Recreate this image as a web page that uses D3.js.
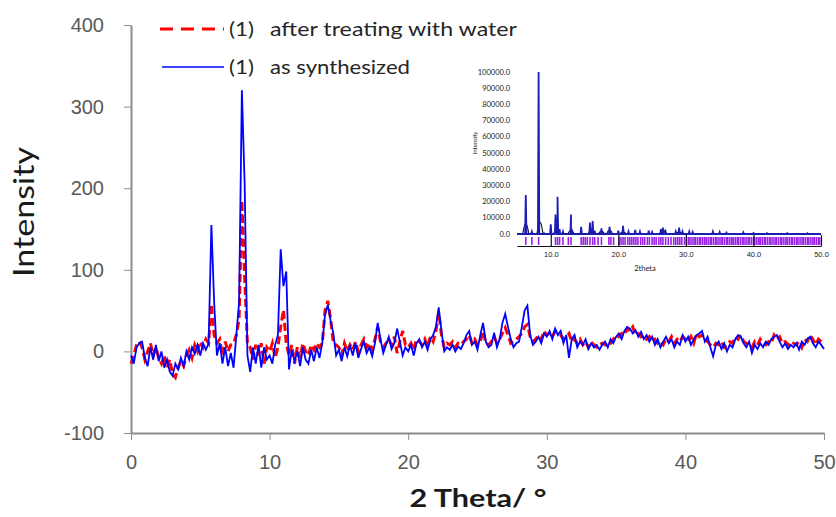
<!DOCTYPE html>
<html lang="en">
<head>
<meta charset="utf-8" />
<title>PXRD pattern</title>
<script src="https://cdn.jsdelivr.net/npm/d3@7/dist/d3.min.js"></script>
<style>
  body { margin: 0; background: #fff; }
  svg { display: block; font-family: Lato, "Open Sans", sans-serif; }
  .axis path, .axis line { stroke: #8c8c8c; }
  .axis text { fill: #595959; }
</style>
</head>
<body>
<div id="chart"></div>
<script>
// main pattern, 2theta from 0 to 50 in 0.2 steps
var thetaStep = 0.2;

var asSynth = [
  -5, -15, 5, 10, 12, -8, -18, 5, -10, 8,
  -12, 0, -20, -10, -25, -30, -15, -22, -8, -18,
  0, -10, 5, -3, 8, -5, 10, 2, 10, 155,
  60, -5, 10, -15, 5, -18, -2, -20, 20, 60,
  320, 205, -5, -25, 5, -15, 8, -20, 5, -10,
  -5, -15, 8, 20, 125, 80, 98, -22, 2, -12,
  0, -18, 5, -10, -15, 2, -12, 5, -8, 10,
  45, 57, 38, 22, -5, 2, -12, 5, -6, 8,
  -5, 10, -8, 3, 12, -2, 5, -6, 10, 35,
  15, -2, 8, 18, 3, 10, 28, 12, -5, 5,
  0, 8, -5, 10, 15, 5, 12, 2, 15, 20,
  30, 54, 25, 0, 5, 2, 8, 0, 6, 3,
  10, 20, 25, 8, 12, 2, 20, 35, 12, 5,
  8, 23, 5, 15, 35, 46, 30, 15, 5, 10,
  12, 30, 50, 56, 20, 8, 12, 18, 10, 22,
  18, 25, 15, 28, 20, 25, 10, 20, -8, 15,
  20, 5, 12, 8, 15, 3, 10, 5, 8, 2,
  8, 12, 5, 15, 10, 18, 22, 15, 25, 30,
  28, 22, 26, 18, 24, 15, 20, 12, 18, 8,
  15, 5, 12, 18, 10, 15, 5, 12, 8, 20,
  12, 18, 8, 15, 20, 22, 25, 12, 18, 5,
  -6, 8, 12, 3, 10, 0, 8, 5, 15, 20,
  18, 10, 5, 12, -2, 8, 3, 10, 5, 12,
  8, 15, 18, 20, 12, 5, 10, 3, 8, 5,
  10, 2, 12, 8, 15, 18, 10, 5, 12, 8,
  3
];

var afterWater = [
  -15, -5, 8, 12, 5, -10, 0, 10, -5, 5,
  -8, -15, -5, -20, -10, -28, -32, -20, -12, -18,
  -5, 2, -8, 8, 0, 12, 5, 15, 10, 58,
  20, 10, 15, -5, 12, 0, 8, 10, 20, 40,
  185, 90, 10, 5, -10, 8, -5, 10, -15, 5,
  0, 10, -8, 5, 30, 51, 10, -5, 8, -15,
  5, -8, 10, 0, -5, 8, 2, 10, 5, 10,
  50, 62, 40, 10, 8, 5, -5, 10, 0, 8,
  2, 12, 0, 8, 15, 5, 10, 2, 15, 30,
  12, 5, 10, 15, 8, 18, -2, 12, 25, 8,
  5, 10, 2, 15, 12, 8, 15, 5, 18, 12,
  25, 48, 20, 5, 10, 8, 12, 5, 10, 8,
  12, 15, 20, 10, 15, 8, 12, 25, 10, 8,
  12, 18, 10, 15, 22, 29, 20, 10, 12, 15,
  18, 22, 30, 33, 18, 12, 15, 20, 15, 25,
  20, 22, 18, 25, 22, 20, 15, 18, 22, 12,
  15, 10, 15, 8, 12, 5, 12, 8, 5, 8,
  10, 8, 12, 10, 15, 20, 18, 22, 20, 28,
  25, 30, 20, 22, 18, 20, 15, 18, 12, 15,
  10, 12, 8, 15, 12, 18, 10, 15, 12, 18,
  15, 12, 18, 10, 22, 18, 20, 15, 12, 8,
  5, 10, 8, 12, 5, 8, 12, 10, 18, 15,
  20, 12, 10, 8, 5, 12, 8, 15, 10, 8,
  12, 10, 20, 15, 18, 10, 12, 8, 12, 10,
  8, 12, 5, 15, 12, 20, 15, 8, 15, 12,
  10
];

var xTicks = [0, 10, 20, 30, 40, 50];
var yTicks = [-100, 0, 100, 200, 300, 400];
var legendTags = ["(1)", "(1)"];
var legendLabels = ["after treating with water", "as synthesized"];

// inset: refined pattern
var insetPeakPos = [6.3, 7.2, 8.2, 9.0, 10.0, 10.7, 10.9, 11.0, 11.3, 11.8, 13.0, 13.1, 14.5, 15.8, 16.2, 16.5,
  17.5, 18.7, 20.0, 20.7, 21.5, 22.5, 23.2, 24.5, 25.0, 26.3, 26.6, 27.0, 28.5, 29.0, 29.5, 30.5, 31.0,
  34.0, 35.0, 36.0, 38.5, 40.0, 42.0, 45.0, 48.0];
var insetPeakInt = [24000, 1500, 100000, 500, 6000, 12000, 10000, 23000, 3000, 1500, 12000, 3000, 4500, 7000, 8000, 2000,
  3500, 4500, 2000, 5000, 1500, 2500, 1500, 2000, 1200, 3000, 4000, 1500, 1500, 4000, 1500, 1500, 1200,
  1500, 1200, 800, 1000, 600, 500, 500, 400];
var insetHumpPos = [6.3, 8.4, 10.9, 13.0, 16.0, 17.5, 18.7, 20.7, 26.6, 29.0];
var insetHumpInt = [7000, 8000, 4000, 2500, 3000, 2000, 2500, 1500, 3000, 1500];
var insetRefl = [6.3, 7.2, 8.2, 10.7, 11.0, 11.3, 11.8, 12.6, 13.0, 14.5, 14.8, 15.1, 15.4, 15.8, 16.2, 16.5, 17.0, 17.5,
  18.6, 18.9, 19.3, 20.1, 20.4, 20.7, 21.0, 21.4, 21.7, 22.0, 22.3, 22.6, 22.9, 23.3, 23.6, 23.9, 24.3, 24.6,
  25.0, 25.3, 25.6, 26.0, 26.3, 26.6, 27.0, 27.4, 27.8, 28.2, 28.5, 28.8, 29.1, 29.4, 29.8, 30.1, 30.4, 30.6,
  30.9, 31.2, 31.4, 31.7, 32.0, 32.2, 32.5, 32.8, 33.0, 33.3, 33.6, 33.8, 34.1, 34.4, 34.6, 34.9, 35.2, 35.4,
  35.7, 36.0, 36.2, 36.5, 36.8, 37.0, 37.3, 37.6, 37.8, 38.1, 38.4, 38.6, 38.9, 39.2, 39.4, 39.7, 40.0, 40.2,
  40.5, 40.8, 41.0, 41.3, 41.6, 41.8, 42.1, 42.4, 42.6, 42.9, 43.2, 43.4, 43.7, 44.0, 44.2, 44.5, 44.8, 45.0,
  45.3, 45.6, 45.8, 46.1, 46.4, 46.6, 46.9, 47.2, 47.4, 47.7, 48.0, 48.2, 48.5, 48.8, 49.0, 49.3, 49.6, 49.8];
var insetXTicks = [10, 20, 30, 40, 50];
var insetYTicks = [0, 10000, 20000, 30000, 40000, 50000, 60000, 70000, 80000, 90000, 100000];

var width = 836;
var height = 517;

var svg = d3.select("#chart")
  .append("svg")
  .attr("width", width)
  .attr("height", height);

var xScale = d3.scaleLinear().domain([0, 50]).range([131, 824]);
var yScale = d3.scaleLinear().domain([-100, 400]).range([433, 25]);

//axes
var xAxis = d3.axisBottom(xScale).tickValues(xTicks).tickSize(7).tickPadding(15).tickSizeOuter(0);
var yAxis = d3.axisLeft(yScale).tickValues(yTicks).tickSize(7).tickPadding(20).tickSizeOuter(0)
  .tickFormat(function(d) { return String(d); });

svg.append("g")
  .attr("class", "axis")
  .attr("transform", "translate(0," + yScale(-100) + ")")
  .call(xAxis)
  .call(function(g) {
    g.select(".domain").attr("stroke-width", 2.2);
    g.selectAll("text").attr("font-size", 20);
  });

svg.append("g")
  .attr("class", "axis")
  .attr("transform", "translate(" + xScale(0) + ",0)")
  .call(yAxis)
  .call(function(g) {
    g.select(".domain").attr("stroke-width", 2);
    g.selectAll("text").attr("font-size", 20);
  });

// series
var pts = function(arr) {
  return arr.map(function(v, i) { return { x: i * thetaStep, y: v }; });
};
var line = d3.line()
  .x(function(d) { return xScale(d.x); })
  .y(function(d) { return yScale(d.y); });

svg.append("path")
  .datum(pts(afterWater))
  .attr("d", line)
  .attr("fill", "none")
  .attr("stroke", "#ff0000")
  .attr("stroke-width", 3)
  .attr("stroke-dasharray", "8,4");

svg.append("path")
  .datum(pts(asSynth))
  .attr("d", line)
  .attr("fill", "none")
  .attr("stroke", "#0000ff")
  .attr("stroke-width", 1.8);

// axis titles
svg.append("text")
  .attr("transform", "translate(34,212) rotate(-90)")
  .attr("text-anchor", "middle")
  .attr("font-size", 28)
  .attr("fill", "#1a1a1a")
  .attr("textLength", 130)
  .attr("lengthAdjust", "spacingAndGlyphs")
  .text("Intensity");

svg.append("text")
  .attr("x", 478)
  .attr("y", 507)
  .attr("text-anchor", "middle")
  .attr("font-size", 25)
  .attr("font-weight", "bold")
  .attr("fill", "#1a1a1a")
  .attr("textLength", 137)
  .attr("lengthAdjust", "spacingAndGlyphs")
  .text("2 Theta/ \u00b0");

// legend
svg.append("line")
  .attr("x1", 160).attr("x2", 224).attr("y1", 29).attr("y2", 29)
  .attr("stroke", "#ff0000").attr("stroke-width", 3).attr("stroke-dasharray", "13,8");
svg.append("line")
  .attr("x1", 162).attr("x2", 224).attr("y1", 67).attr("y2", 67)
  .attr("stroke", "#0000ff").attr("stroke-width", 1.5);
svg.selectAll(".legtag")
  .data(legendTags)
  .enter()
  .append("text")
  .attr("class", "legtag")
  .attr("x", 229)
  .attr("y", function(d, i) { return 36 + i * 38; })
  .attr("font-size", 20)
  .attr("fill", "#262626")
  .attr("textLength", 25)
  .attr("lengthAdjust", "spacingAndGlyphs")
  .text(function(d) { return d; });
svg.selectAll(".legtext")
  .data(legendLabels)
  .enter()
  .append("text")
  .attr("class", "legtext")
  .attr("x", 270)
  .attr("y", function(d, i) { return 36 + i * 38; })
  .attr("font-size", 20)
  .attr("fill", "#262626")
  .attr("textLength", function(d, i) { return i === 0 ? 247 : 140; })
  .attr("lengthAdjust", "spacingAndGlyphs")
  .text(function(d) { return d; });

// inset
var ix = d3.scaleLinear().domain([5, 50]).range([517, 821]);
var iy = d3.scaleLinear().domain([0, 100000]).range([234, 72]);
var inset = svg.append("g").attr("class", "inset");

inset.selectAll(".iytick")
  .data(insetYTicks)
  .enter()
  .append("text")
  .attr("class", "iytick")
  .attr("x", 510)
  .attr("y", function(d) { return iy(d) + 2.5; })
  .attr("text-anchor", "end")
  .attr("font-size", 7.5)
  .attr("fill", "#222")
  .text(function(d) { return d3.format(".1f")(d); });

// purple reflection markers
inset.selectAll(".refl")
  .data(insetRefl)
  .enter()
  .append("line")
  .attr("x1", function(d) { return ix(d); })
  .attr("x2", function(d) { return ix(d); })
  .attr("y1", 237)
  .attr("y2", 245)
  .attr("stroke", "#9a22e8")
  .attr("stroke-width", 1.6);

// x axis of inset with inward ticks
var ixAxis = d3.axisBottom(ix).tickValues(insetXTicks).tickSize(-11).tickPadding(4).tickSizeOuter(0)
  .tickFormat(d3.format(".1f"));
inset.append("g")
  .attr("transform", "translate(0,246)")
  .call(ixAxis)
  .call(function(g) {
    g.selectAll("path, line").attr("stroke", "#111").attr("stroke-width", 1.2);
    g.selectAll("text").attr("font-size", 7.5).attr("fill", "#222").attr("dy", "0.9em");
  });

// broad profile humps in black
insetHumpPos.forEach(function(p, i) {
  var h = insetHumpInt[i];
  inset.append("path")
    .datum([[p - 0.45, 0], [p - 0.25, h * 0.7], [p, h], [p + 0.25, h * 0.7], [p + 0.45, 0]])
    .attr("d", d3.line().curve(d3.curveBasis).x(function(d) { return ix(d[0]); }).y(function(d) { return iy(d[1]); }))
    .attr("fill", "none")
    .attr("stroke", "#111")
    .attr("stroke-width", 1.1);
});

// observed sticks
var stickPts = [];
insetPeakPos.forEach(function(p, i) {
  stickPts.push([p - 0.1, 0], [p, insetPeakInt[i]], [p + 0.1, 0]);
});
stickPts.sort(function(a, b) { return a[0] - b[0]; });
stickPts.unshift([5, 0]);
stickPts.push([50, 0]);
var iline = d3.line()
  .x(function(d) { return ix(d[0]); })
  .y(function(d) { return iy(d[1]); });

inset.append("path")
  .datum(stickPts)
  .attr("d", iline)
  .attr("fill", "none")
  .attr("stroke", "#1d1db4")
  .attr("stroke-width", 1.8);

inset.append("text")
  .attr("transform", "translate(477,143) rotate(-90)")
  .attr("text-anchor", "middle")
  .attr("font-size", 6)
  .attr("fill", "#222")
  .text("Intensity");

inset.append("text")
  .attr("x", 645)
  .attr("y", 271)
  .attr("text-anchor", "middle")
  .attr("font-size", 7.5)
  .attr("fill", "#222")
  .text("2theta");
</script>
</body>
</html>
